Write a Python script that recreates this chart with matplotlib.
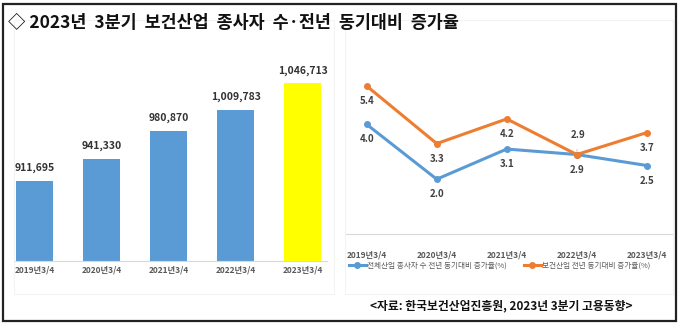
import matplotlib.pyplot as plt
from matplotlib.patches import Rectangle

plt.rcParams['font.family'] = ['Noto Sans CJK KR', 'DejaVu Sans']

quarters = ["2019년3/4", "2020년3/4", "2021년3/4", "2022년3/4", "2023년3/4"]
workers = [911695, 941330, 980870, 1009783, 1046713]
bar_colors = ["#5B9BD5", "#5B9BD5", "#5B9BD5", "#5B9BD5", "#FFFF00"]
all_growth = [4.0, 2.0, 3.1, 2.9, 2.5]
health_growth = [5.4, 3.3, 4.2, 2.9, 3.7]
all_name = "전체산업 종사자 수 전년 동기대비 증가율(%)"
health_name = "보건산업 전년 동기대비 증가율(%)"

W, H = 680, 324
fig = plt.figure(figsize=(W / 100, H / 100), dpi=100)


def box(x0, y0, x1, y1):
    # pixel box (from top-left) -> figure fraction rect
    return [x0 / W, 1 - y1 / H, (x1 - x0) / W, (y1 - y0) / H]


# outer frame
fig.patches.append(Rectangle((2.5 / W, 3.5 / H), 673 / W, 317 / H, transform=fig.transFigure,
                             fill=False, edgecolor="#222222", linewidth=1.6))
# faint chart area frames
for x0, x1 in [(14, 334), (345, 673)]:
    fig.patches.append(Rectangle((x0 / W, 30 / H), (x1 - x0) / W, 274 / H, transform=fig.transFigure,
                                 fill=False, edgecolor="#f3f3f3", linewidth=0.8))

fig.text(8 / W, 1 - 23 / H, "◇ 2023년  3분기  보건산업  종사자  수·전년  동기대비  증가율",
         fontsize=12.5, fontweight="bold", va="center", ha="left", color="#111111")

# ---- bar chart ----
ax1 = fig.add_axes(box(14, 45, 327, 261))
x = range(len(quarters))
ax1.bar(x, workers, width=0.55, color=bar_colors)
ax1.set_ylim(800000, 1100000)
ax1.set_xlim(-0.31, 4.36)
for i, v in enumerate(workers):
    ax1.annotate(f"{v:,}", (i, v), xytext=(0, 13), textcoords="offset pixels",
                 ha="center", va="center", fontsize=7.5, fontweight="bold", color="#333333")
ax1.set_xticks(list(x))
ax1.set_xticklabels(quarters, fontsize=6, fontweight="bold", color="#595959")
ax1.tick_params(axis="x", length=0, pad=3)
ax1.set_yticks([])
for s in ["top", "right", "left"]:
    ax1.spines[s].set_visible(False)
ax1.spines["bottom"].set_color("#d9d9d9")

# ---- line chart ----
ax2 = fig.add_axes(box(345, 69.6, 672, 234))
ax2.plot(x, all_growth, color="#5B9BD5", linewidth=2.2, marker="o", markersize=4, label=all_name)
ax2.plot(x, health_growth, color="#ED7D31", linewidth=2.2, marker="o", markersize=4, label=health_name)
ax2.set_ylim(0, 6)
ax2.set_xlim(-0.31, 4.36)
for i, v in enumerate(all_growth):
    ax2.annotate(f"{v:.1f}", (i, v), xytext=(0, -15), textcoords="offset pixels",
                 ha="center", va="center", fontsize=7, fontweight="bold", color="#404040")
for i, v in enumerate(health_growth):
    if i == 3:
        ax2.annotate(f"{v:.1f}", (i, v), xytext=(1, 20), textcoords="offset pixels",
                     ha="center", va="center", fontsize=7, fontweight="bold", color="#404040",
                     arrowprops=dict(arrowstyle="-", color="#bfbfbf", lw=0.6, shrinkA=5, shrinkB=2))
    else:
        ax2.annotate(f"{v:.1f}", (i, v), xytext=(0, -15), textcoords="offset pixels",
                     ha="center", va="center", fontsize=7, fontweight="bold", color="#404040")
ax2.set_xticks(list(x))
ax2.set_xticklabels(quarters, fontsize=6, fontweight="bold", color="#595959")
ax2.tick_params(axis="x", length=0, pad=12)
ax2.set_yticks([])
for s in ["top", "right", "left"]:
    ax2.spines[s].set_visible(False)
ax2.spines["bottom"].set_color("#d9d9d9")

fig.legend(loc="center left", bbox_to_anchor=(349 / W, 1 - 266 / H), ncol=2, frameon=False,
           fontsize=5.5, handlelength=2.2, handletextpad=0.2, columnspacing=2.2,
           labelcolor="#595959", borderaxespad=0, borderpad=0)

fig.text(501 / W, 1 - 306 / H, "<자료: 한국보건산업진흥원, 2023년 3분기 고용동향>",
         fontsize=8.5, fontweight="bold", ha="center", va="center", color="#111111")

fig.savefig("out.png", dpi=100)
